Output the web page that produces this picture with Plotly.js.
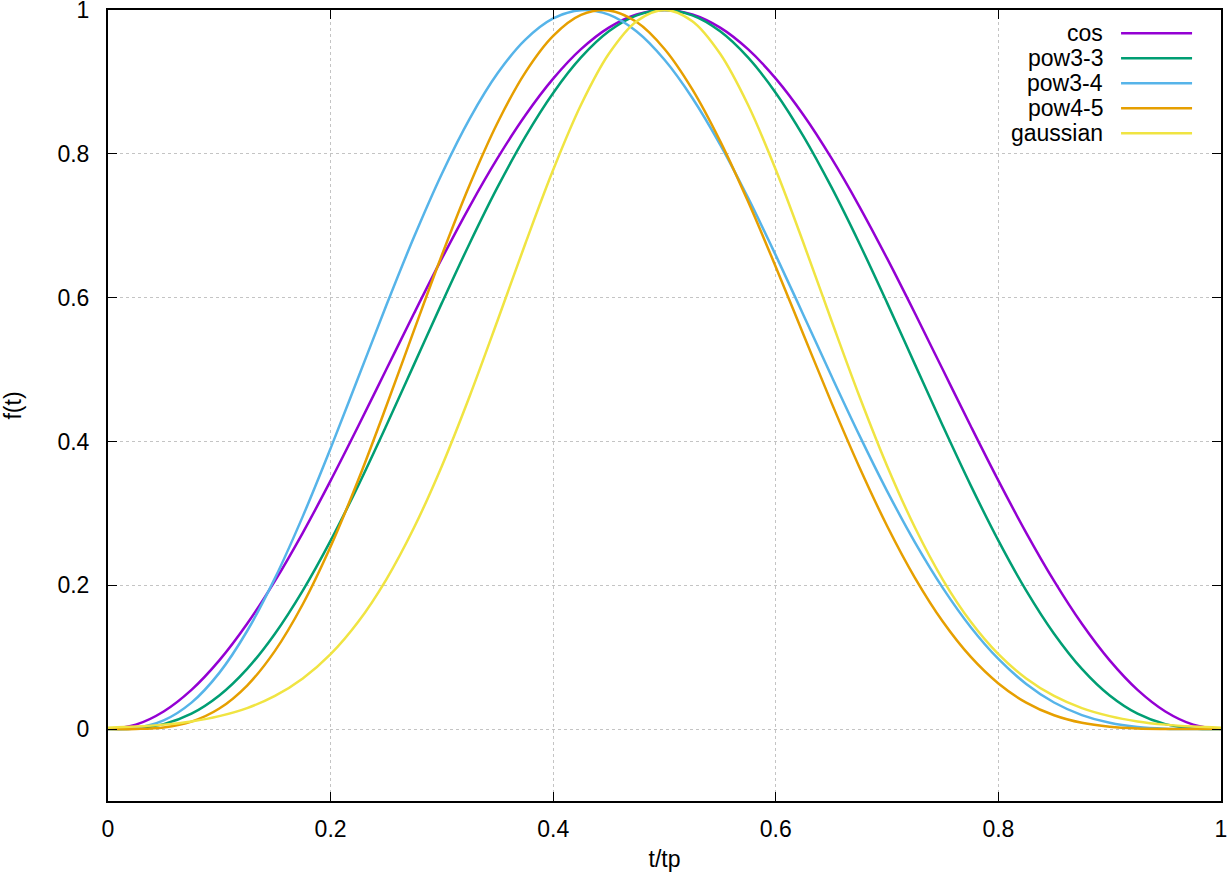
<!DOCTYPE html>
<html>
<head>
<meta charset="utf-8">
<script src="https://cdn.plot.ly/plotly-3.0.1.min.js"></script>
<style>
html,body{margin:0;padding:0;background:#fff;}
#chart{width:1228px;height:878px;}
</style>
</head>
<body>
<div id="chart"></div>
<script>
// t/tp sample positions
const t = [0,0.025,0.05,0.075,0.1,0.125,0.15,0.175,0.2,0.225,0.25,0.275,0.3,0.325,0.35,0.375,0.4,0.425,0.45,0.475,0.5,
           0.525,0.55,0.575,0.6,0.625,0.65,0.675,0.7,0.725,0.75,0.775,0.8,0.825,0.85,0.875,0.9,0.925,0.95,0.975,1];

const cosVals = [0,0.0062,0.0245,0.0545,0.0955,0.1464,0.2061,0.2730,0.3455,0.4218,0.5,0.5782,0.6545,0.7270,0.7939,0.8536,0.9045,0.9455,0.9755,0.9938,1,
                 0.9938,0.9755,0.9455,0.9045,0.8536,0.7939,0.7270,0.6545,0.5782,0.5,0.4218,0.3455,0.2730,0.2061,0.1464,0.0955,0.0545,0.0245,0.0062,0];

const pow33 = [0,0.0009,0.0069,0.0214,0.0467,0.0837,0.1327,0.1926,0.2621,0.3393,0.4219,0.5072,0.5927,0.6757,0.7536,0.8240,0.8847,0.9340,0.9703,0.9925,1,
               0.9925,0.9703,0.9340,0.8847,0.8240,0.7536,0.6757,0.5927,0.5072,0.4219,0.3393,0.2621,0.1926,0.1327,0.0837,0.0467,0.0214,0.0069,0.0009,0];

const pow34 = [0,0.0017,0.0121,0.0368,0.0782,0.1364,0.2099,0.2958,0.3904,0.4896,0.5890,0.6846,0.7724,0.8490,0.9119,0.9588,0.9883,0.9998,0.9935,0.9701,0.9308,
               0.8777,0.8129,0.7390,0.6588,0.5753,0.4910,0.4088,0.3310,0.2597,0.1964,0.1421,0.0976,0.0628,0.0370,0.0195,0.0087,0.0030,0.0006,0.0000,0];

const pow45 = [0,0.0002,0.0023,0.0104,0.0286,0.0606,0.1088,0.1736,0.2539,0.3470,0.4489,0.5548,0.6593,0.7570,0.8432,0.9133,0.9640,0.9931,0.9994,0.9832,0.9458,
               0.8896,0.8177,0.7340,0.6427,0.5480,0.4540,0.3645,0.2825,0.2104,0.1496,0.1007,0.0635,0.0368,0.0192,0.0087,0.0032,0.0008,0.0001,0.0000,0];

const gauss = [0.0019,0.0035,0.0062,0.0107,0.0180,0.0292,0.0461,0.0704,0.1042,0.1496,0.2080,0.2803,0.3660,0.4633,0.5682,0.6753,0.7778,0.8682,0.9391,0.9844,1,
               0.9844,0.9391,0.8682,0.7778,0.6753,0.5682,0.4633,0.3660,0.2803,0.2080,0.1496,0.1042,0.0704,0.0461,0.0292,0.0180,0.0107,0.0062,0.0035,0.0019];

const seriesNames = ['cos','pow3-3','pow3-4','pow4-5','gaussian'];
const seriesData = [cosVals, pow33, pow34, pow45, gauss];
const seriesColors = ['#9400d3','#009e73','#56b4e9','#e69f00','#f0e442'];

const xTicks = [0,0.2,0.4,0.6,0.8,1];
const xTickText = ['0','0.2','0.4','0.6','0.8','1'];
const yTicks = [0,0.2,0.4,0.6,0.8,1];
const yTickText = ['0','0.2','0.4','0.6','0.8','1'];

const FONT = 'Liberation Sans, Arial, Helvetica, sans-serif';
const FS = 23;

const traces = seriesNames.map((n,i)=>({
  type:'scatter', mode:'lines', name:n, x:t, y:seriesData[i],
  line:{color:seriesColors[i], width:2.5, shape:'spline', smoothing:1},
  showlegend:false, hoverinfo:'skip'
}));

// custom gnuplot-style key: text right-aligned, sample line to its right
const annotations = [];
const shapes = [];
const keyTop = 0.9705, keyStep = 0.0316;
seriesNames.forEach((n,i)=>{
  const yy = keyTop - i*keyStep;
  annotations.push({xref:'paper', yref:'paper', x:0.8958, y:yy, xanchor:'right', yanchor:'middle',
    text:n, showarrow:false, font:{family:FONT, size:FS, color:'#000'}});
  shapes.push({type:'line', xref:'paper', yref:'paper', x0:0.9102, x1:0.9740, y0:yy, y1:yy,
    line:{color:seriesColors[i], width:2.5}});
});

const axisCommon = {
  showline:true, linecolor:'#000', linewidth:2, mirror:'allticks',
  ticks:'inside', ticklen:9, tickwidth:1, tickcolor:'#000',
  showgrid:true, gridcolor:'#c4c4c4', gridwidth:1, griddash:'dot',
  zeroline:false, tickfont:{family:FONT, size:FS, color:'#000'},
  ticklabeloverflow:'allow'
};

const layout = {
  width:1228, height:878,
  margin:{l:108, r:7, t:10, b:77},
  paper_bgcolor:'#fff', plot_bgcolor:'#fff',
  font:{family:FONT, size:FS, color:'#000'},
  xaxis:Object.assign({}, axisCommon, {
    range:[0,1], tickmode:'array', tickvals:xTicks, ticktext:xTickText,
    ticklabelstandoff:6,
    title:{text:'t/tp', font:{family:FONT, size:FS, color:'#000'}, standoff:10}
  }),
  yaxis:Object.assign({}, axisCommon, {
    range:[-0.1,1], tickmode:'array', tickvals:yTicks, ticktext:yTickText,
    ticklabelstandoff:12,
    title:{text:'f(t)', font:{family:FONT, size:FS, color:'#000'}, standoff:38}
  }),
  annotations:annotations, shapes:shapes
};

Plotly.newPlot('chart', traces, layout, {displayModeBar:false, staticPlot:true});
</script>
</body>
</html>
